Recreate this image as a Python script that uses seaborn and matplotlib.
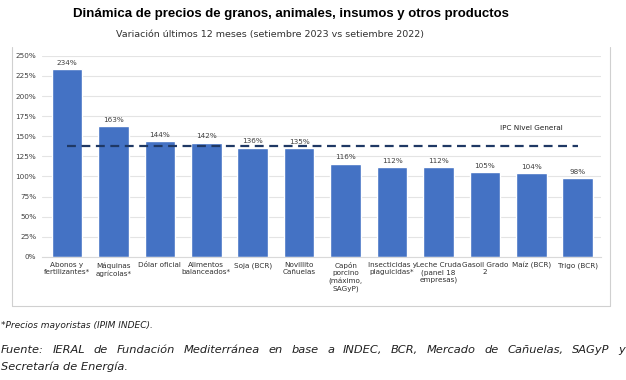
import numpy as np
import pandas as pd
import seaborn as sns
import matplotlib.pyplot as plt
from matplotlib.lines import Line2D

# Data
categorias = ['Abonos y\nfertilizantes*', 'Máquinas\nagrícolas*', 'Dólar oficial',
              'Alimentos\nbalanceados*', 'Soja (BCR)', 'Novillito\nCañuelas',
              'Capón\nporcino\n(máximo,\nSAGyP)', 'Insecticidas y\nplaguicidas*',
              'Leche Cruda\n(panel 18\nempresas)', 'Gasoil Grado\n2', 'Maíz (BCR)', 'Trigo (BCR)']
variacion = [234, 163, 144, 142, 136, 135, 116, 112, 112, 105, 104, 98]
ipc_general = 138
y_ticks = [0, 25, 50, 75, 100, 125, 150, 175, 200, 225, 250]

df = pd.DataFrame({'categoria': categorias, 'variacion': variacion})

sns.set_theme(style='white')
plt.rcParams['font.family'] = ['DejaVu Sans']

fig = plt.figure(figsize=(6.26, 3.8), dpi=100)
ax = fig.add_axes([0.067, 0.324, 0.893, 0.529])

sns.barplot(data=df, x='categoria', y='variacion', color='#4472C4',
            width=0.66, saturation=1, ax=ax)

# data labels
for i, v in enumerate(variacion):
    ax.text(i, v + 4, f'{v}%', ha='center', va='bottom', fontsize=5.2, color='#404040')

# IPC line
ax.plot([0, 11], [ipc_general, ipc_general], ls=(0, (4, 2.5)), color='#1F3864', lw=1.6)
ax.text(10.0, ipc_general + 18, 'IPC Nivel General', ha='center', va='bottom',
        fontsize=5.2, color='#202020')

ax.set_ylim(0, 250)
ax.set_xlim(-0.54, 11.5)
ax.set_yticks(y_ticks)
ax.set_yticklabels([f'{t}%' for t in y_ticks], fontsize=5.2, color='#404040')
ax.yaxis.grid(True, color='#E4E4E4', lw=0.8)
ax.set_axisbelow(True)
ax.tick_params(axis='x', labelsize=5.2, colors='#303030', length=0, pad=4)
ax.tick_params(axis='y', length=0, pad=4)
ax.set_xlabel('')
ax.set_ylabel('')
for s in ['top', 'right', 'left']:
    ax.spines[s].set_visible(False)
ax.spines['bottom'].set_color('#D9D9D9')
ax.spines['bottom'].set_linewidth(0.8)

# chart frame
W, H = 626, 380
def fx(px):
    return px / W
def fy(py):
    return 1 - py / H
frame_kw = dict(color='#D0D0D0', lw=0.8, transform=fig.transFigure)
fig.add_artist(Line2D([fx(12), fx(12)], [fy(47), fy(306)], **frame_kw))
fig.add_artist(Line2D([fx(610), fx(610)], [fy(47), fy(306)], **frame_kw))
fig.add_artist(Line2D([fx(12), fx(610)], [fy(306), fy(306)], **frame_kw))

# titles
fig.text(fx(291), fy(14), 'Dinámica de precios de granos, animales, insumos y otros productos',
         ha='center', va='center', fontsize=9.5, fontweight='bold',
         family='Liberation Sans', color='black')
fig.text(fx(270), fy(35), 'Variación últimos 12 meses (setiembre 2023 vs setiembre 2022)',
         ha='center', va='center', fontsize=6.8, color='#303030')

# footnotes
foot_kw = dict(va='center', style='italic', color='#202020')
fig.text(fx(1), fy(326), '*Precios mayoristas (IPIM INDEC).', ha='left', fontsize=6.5, **foot_kw)

# justified source line
palabras = ('Fuente: IERAL de Fundación Mediterránea en base a INDEC, BCR, '
            'Mercado de Cañuelas, SAGyP y').split()
renderer = fig.canvas.get_renderer()
textos = [fig.text(0, fy(350), p, ha='left', fontsize=8.2, **foot_kw) for p in palabras]
anchos = [t.get_window_extent(renderer).width for t in textos]
x0, x1 = 1, 625
hueco = (x1 - x0 - sum(anchos)) / (len(palabras) - 1)
x = x0
for t, w in zip(textos, anchos):
    t.set_x(fx(x))
    x += w + hueco
fig.text(fx(1), fy(367), 'Secretaría de Energía.', ha='left', fontsize=8.2, **foot_kw)

fig.savefig('out.png', dpi=100)
